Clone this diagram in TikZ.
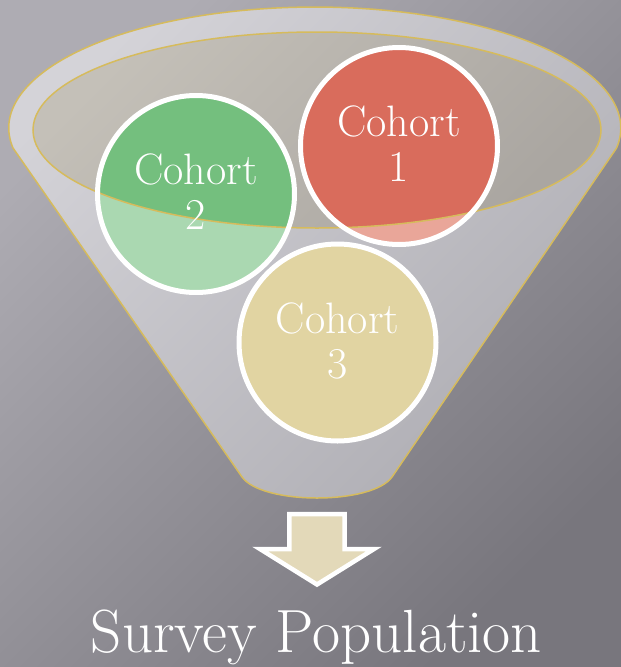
\documentclass[tikz,border=0pt]{standalone}
\usepackage{tikz}
\usetikzlibrary{shapes}
\definecolor{bglight}{RGB}{174,172,179}
\definecolor{bgdark}{RGB}{120,118,125}
\definecolor{funlight}{RGB}{212,211,216}
\definecolor{fundark}{RGB}{174,173,179}
\definecolor{mouthlight}{RGB}{196,192,184}
\definecolor{mouthdark}{RGB}{170,166,161}
\definecolor{rim}{RGB}{214,187,92}
\definecolor{redfull}{RGB}{217,108,92}
\definecolor{redpale}{RGB}{233,166,153}
\definecolor{greenfull}{RGB}{116,191,126}
\definecolor{greenpale}{RGB}{170,216,177}
\definecolor{sandpale}{RGB}{225,212,162}
\definecolor{arrowfill}{RGB}{227,217,185}

\begin{document}
\begin{tikzpicture}[x=1pt, y=-1pt, every node/.style={inner sep=0pt, text=white, align=center}]
		%Background
		\useasboundingbox (0,0) rectangle (621,667);
		\shade[top color=bglight, bottom color=bgdark, shading angle=45] (0,0) rectangle (621,667);
		%Funnel
		\shade[top color=funlight, bottom color=fundark, shading angle=45, draw=rim, line width=1.5pt]
			(13,148) arc[start angle=170.5, end angle=369.5, x radius=306, y radius=121]
			-- (392,477) .. controls (372,505) and (262,505) .. (242,477) -- cycle;
		\shade[top color=mouthlight, bottom color=mouthdark, shading angle=45] (317,130) ellipse[x radius=284, y radius=98];
		%Cohorts
		\coordinate (p1) at (399,146);
		\coordinate (p2) at (196,194);
		\coordinate (p3) at (337.5,342.5);
		\fill[redpale] (p1) circle[radius=98.5];
		\fill[greenpale] (p2) circle[radius=98.5];
		\fill[sandpale] (p3) circle[radius=98.5];
		\begin{scope}
			\clip (317,130) ellipse[x radius=284, y radius=98];
			\fill[redfull] (p1) circle[radius=98.5];
			\fill[greenfull] (p2) circle[radius=98.5];
		\end{scope}
		\draw[rim, line width=1.5pt] (317,130) ellipse[x radius=284, y radius=98];
		\node [circle,draw=white,line width=5pt,minimum size=197pt,text depth=4pt,font=\fontsize{44}{45}\selectfont] (cohort1) at (p1) {Cohort\\1};
		\node [circle,draw=white,line width=5pt,minimum size=197pt,text depth=4pt,font=\fontsize{44}{45}\selectfont] (cohort2) at (p2) {Cohort\\2};
		\node [circle,draw=white,line width=5pt,minimum size=197pt,text depth=4pt,font=\fontsize{44}{45}\selectfont] (cohort3) at (p3) {Cohort\\3};
		%Arrow
		\draw[white, line width=4.5pt, fill=arrowfill, line join=miter]
			(289.3,514) -- (344.7,514) -- (344.7,549) -- (374,549) -- (317,584.5) -- (260,549) -- (289.3,549) -- cycle;
		%Label
		\node [anchor=base,font=\fontsize{61}{64}\selectfont] (survey) at (316.5,652) {Survey Population};
\end{tikzpicture}
\end{document}
